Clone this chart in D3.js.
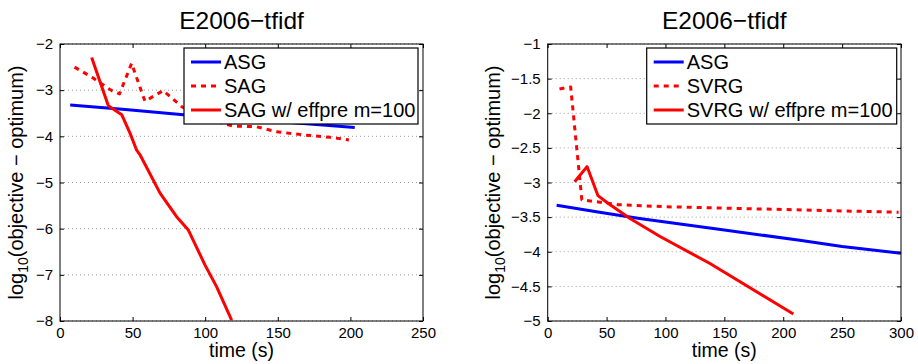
<!DOCTYPE html>
<html>
<head>
<meta charset="utf-8">
<script src="https://cdn.jsdelivr.net/npm/d3@7"></script>
<style>
body { margin: 0; background: #fff; }
svg { font-family: "Liberation Sans", Arial, Helvetica, sans-serif; }
</style>
</head>
<body>
<div id="chart"></div>
<script>
var W = 918, H = 364;

// ---- data: [time (s), log10(objective - optimum)] ----
var leftAsg = [[7, -3.32], [45, -3.42], [85, -3.53], [150, -3.68], [203, -3.81]];
var leftSag = [[10, -2.50], [22, -2.72], [35.6, -3.01], [41, -3.08], [49.3, -2.42],
               [58.5, -3.24], [71, -3.01], [84, -3.36], [100, -3.60], [119, -3.78],
               [135, -3.79], [149, -3.90], [168, -3.97], [186, -4.02], [199, -4.08]];
var leftSagPre = [[21.8, -2.29], [33.3, -3.34], [42.5, -3.53], [48.2, -3.93], [52.8, -4.30],
                  [55.1, -4.40], [68.9, -5.23], [80.3, -5.74], [88.4, -6.03], [99.9, -6.79],
                  [107.9, -7.26], [118.2, -7.98]];

var rightAsg = [[7.6, -3.33], [44, -3.43], [78, -3.52], [150, -3.685], [214, -3.835],
                [250, -3.925], [300, -4.02]];
var rightSvrg = [[10, -1.65], [19.5, -1.62], [29, -3.25], [60, -3.32], [100, -3.35],
                 [150, -3.37], [200, -3.39], [250, -3.41], [298, -3.43]];
var rightSvrgPre = [[22.9, -2.99], [33.4, -2.77], [42.7, -3.19], [51.2, -3.30], [69.9, -3.52],
                    [95.4, -3.78], [137.8, -4.17], [208.6, -4.90]];

var leftXTicks = [0, 50, 100, 150, 200, 250];
var leftYTicks = [-2, -3, -4, -5, -6, -7, -8];
var rightXTicks = [0, 50, 100, 150, 200, 250, 300];
var rightYTicks = [-1, -1.5, -2, -2.5, -3, -3.5, -4, -4.5, -5];

var leftNames = ["ASG", "SAG", "SAG w/ effpre m=100"];
var rightNames = ["ASG", "SVRG", "SVRG w/ effpre m=100"];

var svg = d3.select("#chart").append("svg")
    .attr("width", W)
    .attr("height", H);

function fmt(d) { return (d < 0 ? "\u2212" : "") + Math.abs(d); }

function panel(p) {
  var x = d3.scaleLinear().domain(p.xDomain).range([0, p.w]);
  var y = d3.scaleLinear().domain(p.yDomain).range([0, p.h]);

  var g = svg.append("g").attr("transform", "translate(" + p.left + "," + p.top + ")");

  g.append("clipPath").attr("id", "clip" + p.id)
   .append("rect").attr("width", p.w).attr("height", p.h);

  // dotted horizontal grid
  g.selectAll(".grid").data(p.yTicks).enter().append("line")
   .attr("x1", 0).attr("x2", p.w)
   .attr("y1", function(d) { return y(d); })
   .attr("y2", function(d) { return y(d); })
   .attr("stroke", "#9a9a9a").attr("stroke-width", 1)
   .attr("stroke-dasharray", "1,3");

  var line = d3.line().x(function(d) { return x(d[0]); }).y(function(d) { return y(d[1]); });

  var series = [
    { data: p.s0, color: "#0000ff", dash: null },
    { data: p.s1, color: "#ff0000", dash: "5,5" },
    { data: p.s2, color: "#ff0000", dash: null }
  ];

  var lines = g.append("g").attr("clip-path", "url(#clip" + p.id + ")");
  series.forEach(function(s) {
    lines.append("path").datum(s.data)
      .attr("d", line)
      .attr("fill", "none")
      .attr("stroke", s.color)
      .attr("stroke-width", 3)
      .attr("stroke-dasharray", s.dash)
      .attr("stroke-linejoin", "round");
  });

  // axes (inward ticks, box on all sides)
  var ax = [
    { a: d3.axisBottom(x).tickValues(p.xTicks).tickSizeInner(-4).tickSizeOuter(0).tickPadding(6).tickFormat(fmt), t: "translate(0," + p.h + ")" },
    { a: d3.axisTop(x).tickValues(p.xTicks).tickSizeInner(-4).tickSizeOuter(0).tickFormat(""), t: "translate(0,0)" },
    { a: d3.axisLeft(y).tickValues(p.yTicks).tickSizeInner(-4).tickSizeOuter(0).tickPadding(7).tickFormat(fmt), t: "translate(0,0)" },
    { a: d3.axisRight(y).tickValues(p.yTicks).tickSizeInner(-4).tickSizeOuter(0).tickFormat(""), t: "translate(" + p.w + ",0)" }
  ];
  ax.forEach(function(o) {
    var ag = g.append("g").attr("transform", o.t).call(o.a);
    ag.select(".domain").remove();
    ag.selectAll("line").attr("stroke", "#000");
    ag.selectAll("text").attr("font-size", 15).attr("fill", "#000")
      .attr("font-family", "Liberation Sans, Arial, sans-serif");
  });
  g.append("rect").attr("width", p.w).attr("height", p.h)
   .attr("fill", "none").attr("stroke", "#000").attr("stroke-width", 1);

  // legend
  var lg = g.append("g").attr("transform", "translate(" + p.legX + ",4)");
  lg.append("rect").attr("width", p.legW).attr("height", 76)
    .attr("fill", "#fff").attr("stroke", "#000").attr("stroke-width", 1.2);
  series.forEach(function(s, i) {
    var ry = 14 + i * 24;
    lg.append("line").attr("x1", 7).attr("x2", 37).attr("y1", ry).attr("y2", ry)
      .attr("stroke", s.color).attr("stroke-width", 3).attr("stroke-dasharray", s.dash);
    lg.append("text").attr("x", 40).attr("y", ry + 7)
      .attr("font-size", 20).text(p.names[i]);
  });

  // title and labels
  svg.append("text").attr("x", p.left + p.w / 2).attr("y", 29)
    .attr("text-anchor", "middle").attr("font-size", 24.5).text("E2006\u2212tfidf");
  svg.append("text").attr("x", p.left + p.w / 2).attr("y", 357)
    .attr("text-anchor", "middle").attr("font-size", 19.5).text("time (s)");
  var yl = svg.append("text")
    .attr("transform", "translate(" + p.yLabX + "," + (p.top + p.h / 2) + ") rotate(-90)")
    .attr("text-anchor", "middle").attr("font-size", 20);
  yl.append("tspan").text("log");
  yl.append("tspan").attr("font-size", 14).attr("dy", 5).text("10");
  yl.append("tspan").attr("dy", -5).text("(objective \u2212 optimum)");
}

panel({ id: "L", left: 60, top: 44, w: 363, h: 277,
        xDomain: [0, 250], yDomain: [-2, -8], xTicks: leftXTicks, yTicks: leftYTicks,
        s0: leftAsg, s1: leftSag, s2: leftSagPre, names: leftNames,
        legX: 124, legW: 234, yLabX: 23 });

panel({ id: "R", left: 547.7, top: 44, w: 353.3, h: 277,
        xDomain: [0, 300], yDomain: [-1, -5], xTicks: rightXTicks, yTicks: rightYTicks,
        s0: rightAsg, s1: rightSvrg, s2: rightSvrgPre, names: rightNames,
        legX: 99, legW: 250, yLabX: 500 });
</script>
</body>
</html>
